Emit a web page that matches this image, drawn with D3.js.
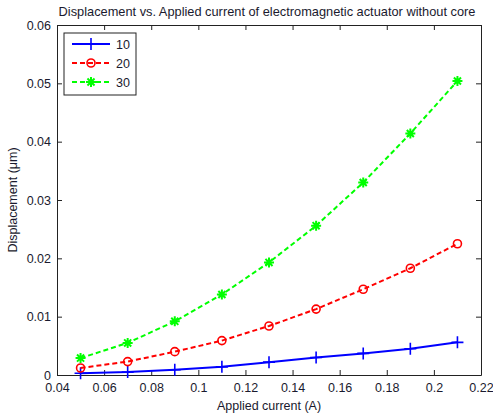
<!DOCTYPE html>
<html><head><meta charset="utf-8">
<script src="https://cdn.jsdelivr.net/npm/d3@7"></script>
<style>body{margin:0;background:#fff}svg{display:block}text{font-family:"Liberation Sans",Arial,sans-serif;fill:#1a1a2e}</style>
</head><body>
<script>
const current = [0.05,0.07,0.09,0.11,0.13,0.15,0.17,0.19,0.21];
const s10 = [0.0003,0.0005,0.0009,0.0014,0.0022,0.0030,0.0037,0.0045,0.0056];
const s20 = [0.0012,0.0023,0.0040,0.0059,0.0084,0.0113,0.0147,0.0183,0.0225];
const s30 = [0.0029,0.0055,0.0092,0.0138,0.0193,0.0256,0.0330,0.0414,0.0504];
const seriesNames = ["10","20","30"];
const xTicks = [0.04,0.06,0.08,0.1,0.12,0.14,0.16,0.18,0.2,0.22];
const yTicks = [0,0.01,0.02,0.03,0.04,0.05,0.06];

const W=493,H=417, m={l:57,r:12,t:25,b:42};
const svg=d3.select("body").append("svg").attr("width",W).attr("height",H);
const x=d3.scaleLinear().domain([0.04,0.22]).range([m.l,W-m.r]);
const y=d3.scaleLinear().domain([0,0.06]).range([H-m.b,m.t]);

const fmt=d=>d===0?"0":String(+d.toFixed(2));
const gx=svg.append("g").attr("transform",`translate(0,${H-m.b})`)
  .call(d3.axisBottom(x).tickValues(xTicks).tickFormat(fmt).tickSizeInner(-5).tickSizeOuter(0).tickPadding(8));
const gy=svg.append("g").attr("transform",`translate(${m.l},0)`)
  .call(d3.axisLeft(y).tickValues(yTicks).tickFormat(fmt).tickSizeInner(-5).tickSizeOuter(0).tickPadding(6));
const gt=svg.append("g").attr("transform",`translate(0,${m.t})`)
  .call(d3.axisTop(x).tickValues(xTicks).tickFormat("").tickSizeInner(-5).tickSizeOuter(0));
const gr=svg.append("g").attr("transform",`translate(${W-m.r},0)`)
  .call(d3.axisRight(y).tickValues(yTicks).tickFormat("").tickSizeInner(-5).tickSizeOuter(0));
[gx,gy,gt,gr].forEach(g=>{g.selectAll("path,line").attr("stroke","#222");g.selectAll("text").attr("font-size",12.5).attr("fill","#1a1a2e").style("font-family","Liberation Sans, Arial, sans-serif");});

svg.append("text").attr("x",(m.l+W-m.r)/2-2).attr("y",16).attr("text-anchor","middle").attr("font-size",12.8).text("Displacement vs. Applied current of electromagnetic actuator without core");
svg.append("text").attr("x",(m.l+W-m.r)/2).attr("y",410).attr("text-anchor","middle").attr("font-size",12.5).text("Applied current (A)");
svg.append("text").attr("transform",`translate(17,${(m.t+H-m.b)/2}) rotate(-90)`).attr("text-anchor","middle").attr("font-size",12.5).text("Displacement (μm)");

const series=[
 {name:seriesNames[0],vals:s10,color:"#0000ff",dash:null,marker:"plus"},
 {name:seriesNames[1],vals:s20,color:"#ff0000",dash:"5,3",marker:"circle"},
 {name:seriesNames[2],vals:s30,color:"#00ff00",dash:"5,3",marker:"star"}
];
function drawMarker(g,type,cx,cy,color){
  if(type==="plus"){
    g.append("path").attr("d",`M${cx-6},${cy}H${cx+6}M${cx},${cy-6}V${cy+6}`).attr("stroke",color).attr("stroke-width",1.6);
  } else if(type==="circle"){
    g.append("circle").attr("cx",cx).attr("cy",cy).attr("r",4).attr("fill","none").attr("stroke",color).attr("stroke-width",1.6);
  } else {
    let d="";
    for(let i=0;i<4;i++){const a=i*Math.PI/4;const dx=5*Math.cos(a),dy=5*Math.sin(a);d+=`M${cx-dx},${cy-dy}L${cx+dx},${cy+dy}`;}
    g.append("path").attr("d",d).attr("stroke",color).attr("stroke-width",2);
  }
}
const line=d3.line().x(d=>x(d[0])).y(d=>y(d[1]));
series.forEach(s=>{
  const pts=current.map((c,i)=>[c,s.vals[i]]);
  svg.append("path").datum(pts).attr("d",line).attr("fill","none").attr("stroke",s.color).attr("stroke-width",2).attr("stroke-dasharray",s.dash);
  const g=svg.append("g");
  pts.forEach(p=>drawMarker(g,s.marker,x(p[0]),y(p[1]),s.color));
});
const lg=svg.append("g");
lg.append("rect").attr("x",64).attr("y",33).attr("width",72).attr("height",62).attr("fill","#fff").attr("stroke","#222").attr("stroke-width",1);
series.forEach((s,i)=>{
  const yy=44+i*19;
  lg.append("line").attr("x1",72).attr("x2",110).attr("y1",yy).attr("y2",yy).attr("stroke",s.color).attr("stroke-width",2).attr("stroke-dasharray",s.dash);
  drawMarker(lg,s.marker,91,yy,s.color);
  lg.append("text").attr("x",116).attr("y",yy+4.5).attr("font-size",12.5).text(s.name);
});
</script>
</body></html>
